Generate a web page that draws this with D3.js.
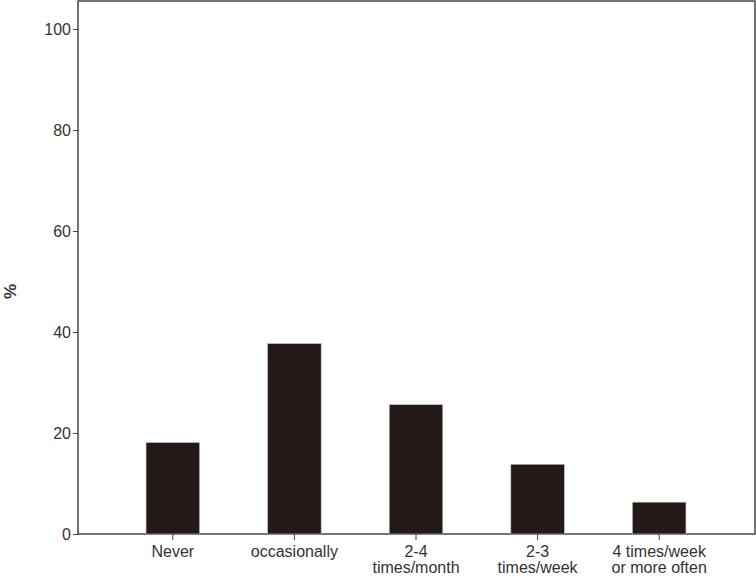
<!DOCTYPE html>
<html>
<head>
<meta charset="utf-8">
<style>
  body { margin: 0; background: #fff; }
  svg { font-family: Arial, 'Liberation Sans', sans-serif; }
  .tick text { font-size: 16px; fill: #333; }
  .domain, .tick line { stroke: #444; }
</style>
</head>
<body>
<svg width="756" height="585"></svg>
<script src="https://d3js.org/d3.v7.min.js"></script>
<script>
  let categories = ["Never", "occasionally", "2-4\ntimes/month", "2-3\ntimes/week", "4 times/week\nor more often"]
  let values = [18.1, 37.7, 25.6, 13.8, 6.3]
  let yTicks = [0, 20, 40, 60, 80, 100]

  let svg = d3.select("svg")
  let margin = { top: 1, right: 1, bottom: 51, left: 78 }
  let width = 756, height = 585

  let x = d3.scaleBand()
    .domain(categories)
    .range([112, 720])
    .paddingInner(0.56)
    .paddingOuter(0.28)

  let y = d3.scaleLinear()
    .domain([0, 100])
    .range([height - margin.bottom, 29])

  // frame
  svg.append("rect")
    .attr("x", margin.left).attr("y", margin.top)
    .attr("width", width - margin.right - margin.left)
    .attr("height", height - margin.bottom - margin.top)
    .attr("fill", "none").attr("stroke", "#444").attr("stroke-width", 1.5)

  svg.append("g")
    .attr("transform", `translate(${margin.left},0)`)
    .call(d3.axisLeft(y).tickValues(yTicks).tickSize(5).tickPadding(2))
    .call(g => g.select(".domain").remove())

  svg.append("g")
    .selectAll("rect")
    .data(values)
    .join("rect")
    .attr("x", (d, i) => x(categories[i]))
    .attr("width", x.bandwidth())
    .attr("y", d => y(d))
    .attr("height", d => y(0) - y(d))
    .attr("fill", "#231a18")
    .attr("stroke", "#bbb").attr("stroke-width", 0.6)

  let xAxis = svg.append("g")
    .attr("transform", `translate(0,${y(0)})`)
    .call(d3.axisBottom(x).tickSize(6).tickSizeOuter(0))
    .call(g => g.select(".domain").remove())

  xAxis.selectAll(".tick text").each(function (d) {
    let t = d3.select(this).text(null)
    d.split("\n").forEach((line, i) => {
      t.append("tspan").attr("x", 0).attr("dy", i ? "1.0em" : "0.9em").text(line)
    })
  })

  svg.append("text")
    .attr("transform", `translate(16,${y(50) + 10}) rotate(-90)`)
    .attr("text-anchor", "middle")
    .attr("font-size", 17).attr("font-weight", "bold").attr("fill", "#333")
    .text("%")
</script>
</body>
</html>
